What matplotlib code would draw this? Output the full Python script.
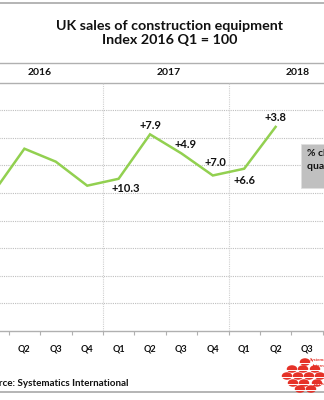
import matplotlib
matplotlib.use("Agg")
import matplotlib.pyplot as plt
from matplotlib.lines import Line2D
from matplotlib.patches import Rectangle, Ellipse

# ---------------- data ----------------
quarters = ['Q1', 'Q2', 'Q3', 'Q4', 'Q1', 'Q2', 'Q3', 'Q4', 'Q1', 'Q2', 'Q3', 'Q4']
years = ['2016', '2017', '2018']
year_label_pos = [1.5, 5.6, 9.7]
index_values = [100, 132.1, 122.7, 105.3, 110.3, 142.5, 128.7, 112.7, 117.6, 147.9]
pct_labels = ['+10.3', '+7.9', '+4.9', '+7.0', '+6.6', '+3.8']
pct_first_idx = 4
pct_offsets = [(7, -10), (0, 9), (4, 9), (3, 13), (0, -12), (0, 9)]

title = 'UK sales of construction equipment\nIndex 2016 Q1 = 100'
source = 'Source: Systematics International'
note = '% change on\nquarter a year earlier'

FONT = ['Lato', 'DejaVu Sans']
plt.rcParams['font.family'] = FONT
TXT = '#111111'
GRID = '#bfbfbf'
GREEN = '#92d050'

W, H = 324, 400
fig = plt.figure(figsize=(W / 100, H / 100), dpi=100)

# axes geometry in pixels
left_px, right_px = -22.7, 354.1
top_px, bot_px = 63, 331
ax = fig.add_axes([left_px / W, 1 - bot_px / H, (right_px - left_px) / W, (bot_px - top_px) / H])
ax.set_xlim(-0.5, len(quarters) - 0.5)
ax.set_ylim(0, 194.2)

# grid
for y in range(20, 180, 20):
    ax.axhline(y, color=GRID, lw=0.8, ls=(0, (1, 1)), zorder=1)
ax.axhline(180, color='#b0b0b0', lw=1.0, zorder=1)
for xb in [3.5, 7.5]:
    ax.plot([xb, xb], [0, 180], color='#d0d0d0', lw=0.8, ls=(0, (1, 1)), zorder=1)

# spines
for s in ['left', 'right']:
    ax.spines[s].set_visible(False)
ax.spines['top'].set_color('#b0b0b0')
ax.spines['top'].set_linewidth(1.0)
ax.spines['bottom'].set_color('#b0b0b0')
ax.spines['bottom'].set_linewidth(1.0)

# ticks
ax.set_yticks([])
ax.set_xticks(range(len(quarters)))
ax.set_xticklabels(quarters, fontsize=6.5, fontweight='bold', color=TXT)
ax.set_xticks([i - 0.5 for i in range(len(quarters) + 1)], minor=True)
ax.tick_params(axis='x', which='major', length=0, pad=10)
ax.tick_params(axis='x', which='minor', length=3, color='#b0b0b0', width=0.8)

# line
xs = list(range(len(index_values)))
ax.plot(xs, index_values, color=GREEN, lw=1.8, zorder=3, solid_joinstyle='miter')

# pct labels
for k, lab in enumerate(pct_labels):
    i = pct_first_idx + k
    ax.annotate(lab, (i, index_values[i]), xytext=pct_offsets[k], textcoords='offset pixels',
                ha='center', va='center', fontsize=8, fontweight='bold', color=TXT, zorder=4)

# year labels
for yl, xp in zip(years, year_label_pos):
    ax.text(xp, 187, yl, ha='center', va='center', fontsize=7.5, fontweight='bold', color=TXT)

# title
fig.text(170 / W, 1 - 33 / H, title, ha='center', va='center', fontsize=10.3, fontweight='bold',
         color=TXT, linespacing=1.3)

# note box
fig.patches.append(Rectangle((300.5 / W, 1 - 188 / H), 40 / W, 44 / H, transform=fig.transFigure,
                             facecolor='#c0c0c0', edgecolor='#e0e0e0', lw=0.6, zorder=5))
fig.text(307 / W, 1 - 160 / H, note, ha='left', va='center', fontsize=7.5, fontweight='bold',
         color=TXT, linespacing=1.45, zorder=6)

# source
fig.text(128 / W, 1 - 383 / H, source, ha='right', va='center', fontsize=7.1, fontweight='bold', color=TXT)

# borders
fig.lines.append(Line2D([0, 1], [1 - 3 / H, 1 - 3 / H], transform=fig.transFigure, color='#a8a8a8', lw=1.2))
fig.lines.append(Line2D([0, 1], [1 - 392 / H, 1 - 392 / H], transform=fig.transFigure, color='#a8a8a8', lw=1.2))

# logo (red spheres)
RED = '#e53228'
circles = [(305, 362), (292, 369), (303, 369), (315, 369),
           (287, 376), (298, 376), (309, 376), (320, 376),
           (293, 383), (304, 383), (317, 383), (300, 389), (311, 389)]
for cx, cy in circles:
    fig.patches.append(Ellipse((cx / W, 1 - cy / H), 10.5 / W, 7.5 / H, transform=fig.transFigure,
                               facecolor=RED, edgecolor='none', zorder=7))
    fig.lines.append(Line2D([(cx - 5.5) / W, (cx + 5.5) / W], [1 - (cy + 0.5) / H] * 2,
                            transform=fig.transFigure, color='white', lw=0.7, zorder=8))
fig.text(310 / W, 1 - 361 / H, 'Systematics', fontsize=3.2, color=RED, fontweight='bold', zorder=9)
fig.text(313 / W, 1 - 367 / H, 'International', fontsize=3.2, color=RED, fontweight='bold', zorder=9)
fig.text(313 / W, 1 - 385 / H, 'Advisers', fontsize=3.2, color=RED, fontweight='bold', zorder=9)

fig.savefig('out.png', dpi=100)
